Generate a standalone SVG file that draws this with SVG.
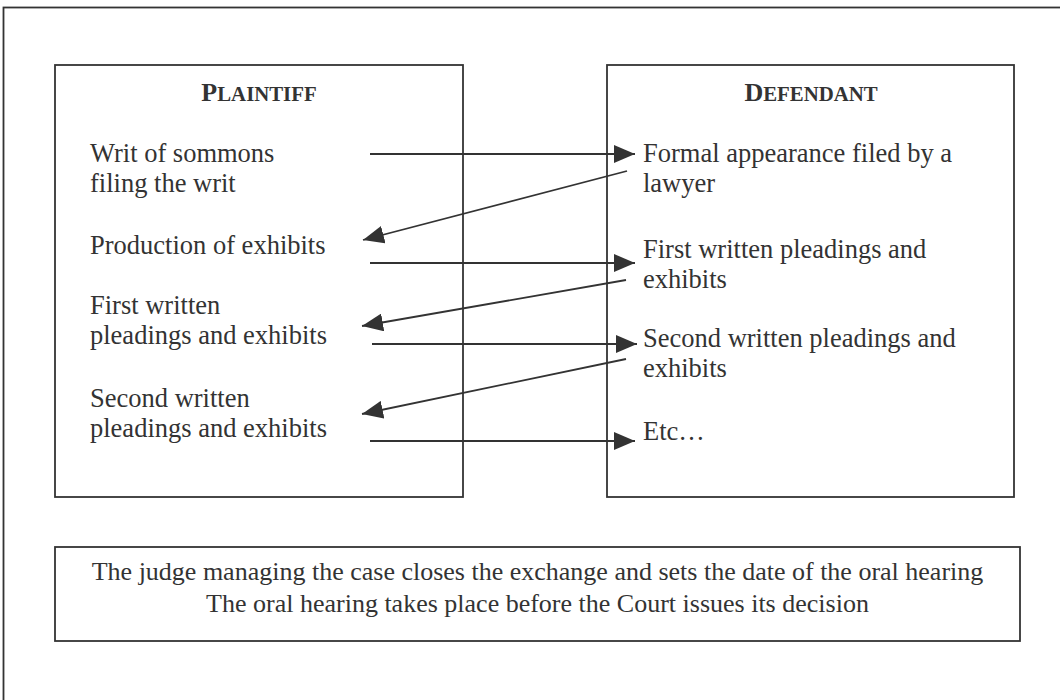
<svg xmlns="http://www.w3.org/2000/svg" width="1060" height="700" viewBox="0 0 1060 700">
<style>
.box{fill:#fff;stroke:#333;stroke-width:1.8}
.t{font-family:"Liberation Serif","Times New Roman",serif;font-size:26.5px;fill:#333}
.s{font-family:"Liberation Serif","Times New Roman",serif;font-size:26px;fill:#333}
.h{font-family:"Liberation Serif","Times New Roman",serif;font-size:26px;font-weight:bold;fill:#333}
.sc{font-size:20.8px}
.c{stroke:#333;stroke-width:1.8;fill:none;marker-end:url(#ah)}
</style>
<defs>
<marker id="ah" markerUnits="userSpaceOnUse" markerWidth="22" markerHeight="18" refX="21" refY="9" orient="auto">
<path d="M0,0 L21,9 L0,18 z" fill="#333"/>
</marker>
</defs>
<rect x="0" y="0" width="1060" height="700" fill="#fff"/>
<rect id="frame" x="3.5" y="7.5" width="1100" height="800" fill="none" stroke="#333" stroke-width="1.8"/>
<g id="plaintiff">
<rect class="box" x="55" y="65" width="408" height="432"/>
<text class="h" x="259" y="101" text-anchor="middle">P<tspan class="sc">LAINTIFF</tspan></text>
<text class="t" x="90" y="162">Writ of sommons</text>
<text class="t" x="90" y="192">filing the writ</text>
<text class="t" x="90" y="254">Production of exhibits</text>
<text class="t" x="90" y="314">First written</text>
<text class="t" x="90" y="344">pleadings and exhibits</text>
<text class="t" x="90" y="407">Second written</text>
<text class="t" x="90" y="437">pleadings and exhibits</text>
</g>
<g id="defendant">
<rect class="box" x="607" y="65" width="407" height="432"/>
<text class="h" x="811" y="101" text-anchor="middle">D<tspan class="sc">EFENDANT</tspan></text>
<text class="t" x="643" y="162">Formal appearance filed by a</text>
<text class="t" x="643" y="192">lawyer</text>
<text class="t" x="643" y="258">First written pleadings and</text>
<text class="t" x="643" y="288">exhibits</text>
<text class="t" x="643" y="347">Second written pleadings and</text>
<text class="t" x="643" y="377">exhibits</text>
<text class="t" x="643" y="440">Etc…</text>
</g>
<g id="summary">
<rect class="box" x="55" y="547" width="965" height="94"/>
<text class="s" x="537.5" y="580" text-anchor="middle">The judge managing the case closes the exchange and sets the date of the oral hearing</text>
<text class="s" x="537.5" y="612" text-anchor="middle">The oral hearing takes place before the Court issues its decision</text>
</g>
<g id="connectors">
<line class="c" x1="370" y1="154" x2="635" y2="154"/>
<line class="c" x1="627" y1="171" x2="363" y2="240"/>
<line class="c" x1="370" y1="263" x2="635" y2="263"/>
<line class="c" x1="626" y1="280" x2="362" y2="326"/>
<line class="c" x1="372" y1="344" x2="637" y2="344"/>
<line class="c" x1="626" y1="359" x2="362" y2="414"/>
<line class="c" x1="370" y1="441" x2="635" y2="441"/>
</g>
</svg>
